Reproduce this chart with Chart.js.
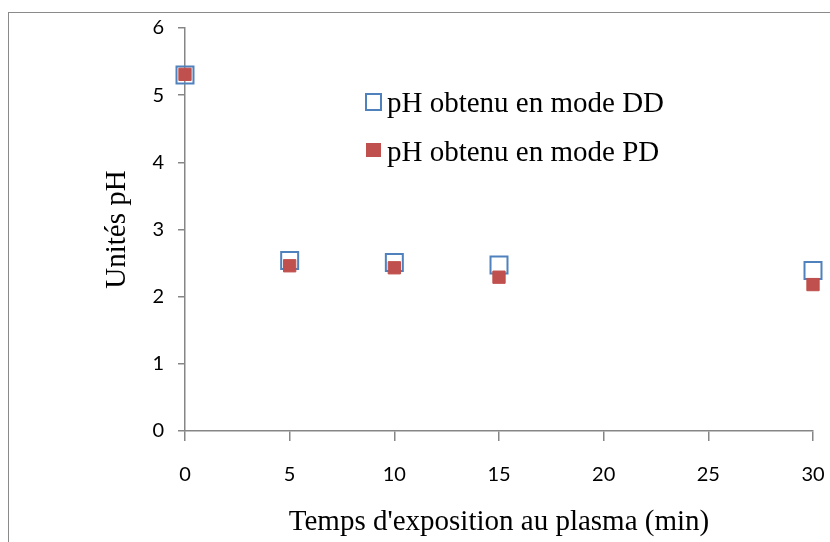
<!DOCTYPE html>
<html>
<head>
<meta charset="utf-8">
<script src="https://cdn.jsdelivr.net/npm/chart.js@4"></script>
<style>
  html, body { margin: 0; padding: 0; background: #fff; }
  #wrap { position: relative; width: 830px; height: 542px; overflow: hidden; }
  #frame { position: absolute; left: 8px; top: 12px; width: 900px; height: 600px;
           border-left: 1.5px solid #8a8a8a; border-top: 1.5px solid #8a8a8a; }
  canvas { position: absolute; left: 0; top: 0; }
  .leg { position: absolute; font-family: "Liberation Serif", "Times New Roman", serif;
         font-size: 29px; line-height: 28px; color: #000; white-space: nowrap; }
  .mk { position: absolute; box-sizing: border-box; }
</style>
</head>
<body>
<div id="wrap">
  <div id="frame"></div>
  <canvas id="c" width="830" height="542"></canvas>
  <div class="mk" id="mkDD" style="left:365px;top:93px;width:17px;height:18px;border:2px solid #4F81BD;"></div>
  <div class="leg" id="lgDD" style="left:387px;top:88px;"></div>
  <div class="mk" id="mkPD" style="left:366px;top:143px;width:15px;height:14px;background:#C0504D;"></div>
  <div class="leg" id="lgPD" style="left:387px;top:137px;"></div>
</div>
<script>
const timesMin = [0, 5, 10, 15, 30];
const phDD = [5.30, 2.54, 2.51, 2.47, 2.39];
const phPD = [5.31, 2.46, 2.43, 2.29, 2.18];
const seriesNames = ["pH obtenu en mode DD", "pH obtenu en mode PD"];
const xTitle = "Temps d'exposition au plasma (min)";
const yTitle = "Unités pH";
const xTicks = [0, 5, 10, 15, 20, 25, 30];
const yTicks = [0, 1, 2, 3, 4, 5, 6];

document.getElementById('lgDD').textContent = seriesNames[0];
document.getElementById('lgPD').textContent = seriesNames[1];

const toPts = (ys) => timesMin.map((x, i) => ({ x: x, y: ys[i] }));
const axisColor = '#868686';
const tickFont = { family: 'Lato, "Open Sans", sans-serif', size: 20 };
const titleFont = { family: '"Liberation Serif", "Times New Roman", serif', size: 29 };

new Chart(document.getElementById('c'), {
  type: 'scatter',
  data: {
    datasets: [
      {
        label: seriesNames[1], data: toPts(phPD), order: 0, clip: false,
        pointStyle: 'rect', pointRadius: 8.7, pointHoverRadius: 8.7,
        backgroundColor: '#C0504D', borderColor: '#C0504D', borderWidth: 1
      },
      {
        label: seriesNames[0], data: toPts(phDD), order: 1, clip: false,
        pointStyle: 'rect', pointRadius: 12, pointHoverRadius: 12,
        backgroundColor: 'rgba(255,255,255,0)', borderColor: '#4F81BD', borderWidth: 2
      }
    ]
  },
  options: {
    responsive: false,
    animation: false,
    events: [],
    layout: { padding: { left: 0, top: 28, right: 17, bottom: 0 } },
    plugins: { legend: { display: false }, tooltip: { enabled: false } },
    scales: {
      x: {
        type: 'linear', min: 0, max: 30,
        afterBuildTicks: (s) => { s.ticks = xTicks.map(v => ({ value: v })); },
        afterFit: (s) => { s.height = 111; s.paddingLeft = 0; s.paddingRight = 0; },
        grid: { drawOnChartArea: false, drawTicks: true, tickLength: 10, color: axisColor, lineWidth: 1.5 },
        border: { color: axisColor, width: 1.5 },
        ticks: { color: '#000', font: tickFont, padding: 22, maxRotation: 0 },
        title: { display: true, text: xTitle, color: '#000', font: titleFont, padding: { top: 0, bottom: 2 } }
      },
      y: {
        type: 'linear', min: 0, max: 6,
        afterBuildTicks: (s) => { s.ticks = yTicks.map(v => ({ value: v })); },
        afterFit: (s) => { s.width = 185; s.paddingTop = 0; s.paddingBottom = 0; },
        grid: { drawOnChartArea: false, drawTicks: true, tickLength: 7, color: axisColor, lineWidth: 1.5 },
        border: { color: axisColor, width: 1.5 },
        ticks: { color: '#000', font: tickFont, padding: 14 },
        title: { display: true, text: yTitle, color: '#000', font: titleFont, padding: { top: 100, bottom: 0 } }
      }
    }
  }
});
</script>
</body>
</html>
